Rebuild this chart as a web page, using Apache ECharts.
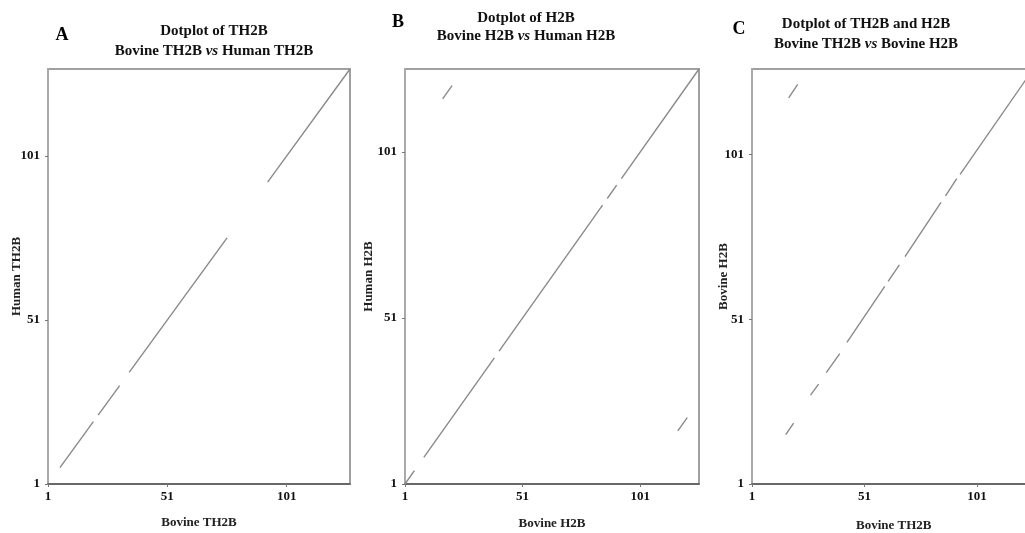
<!DOCTYPE html>
<html>
<head>
<meta charset="utf-8">
<script src="https://cdn.jsdelivr.net/npm/echarts@6/dist/echarts.min.js"></script>
<style>
html,body{margin:0;padding:0;background:#fff;}
#c{width:1025px;height:533px;}
</style>
</head>
<body>
<div id="c"></div>
<script>
// ---- data ----
const tickValues = [1, 51, 101];
const panelLetters = ['A', 'B', 'C'];
const titleLine1 = ['Dotplot of TH2B', 'Dotplot of H2B', 'Dotplot of TH2B and H2B'];
const titleLine2 = ['Bovine TH2B {i|vs} Human TH2B', 'Bovine H2B {i|vs} Human H2B', 'Bovine TH2B {i|vs} Bovine H2B'];
const xNames = ['Bovine TH2B', 'Bovine H2B', 'Bovine TH2B'];
const yNames = ['Human TH2B', 'Human H2B', 'Bovine H2B'];
const axisMax = [127.5, 126, 127];
// dot-plot match segments: [x1, y1, x2, y2] (residue positions)
const segmentsA = [[6, 6, 20, 20], [22, 22, 31, 31], [35, 35, 76, 76], [93, 93, 127.5, 127.5]];
const segmentsB = [[1, 1, 5, 5], [9, 9, 39, 39], [41, 41, 85, 85], [87, 87, 91, 91], [93, 93, 126, 126],
                   [17, 117, 21, 121], [117, 17, 121, 21]];
const segmentsC = [[16, 16, 19.5, 19.5], [27, 28, 30.6, 31.3], [34, 34.8, 40, 40.6], [43.2, 44, 60, 61],
                   [61.5, 62.5, 66.5, 67.5], [69, 70, 85, 86.5], [87, 88.5, 92, 93.7], [93.5, 95, 126, 127],
                   [17.3, 118.2, 21.3, 122.3]];
const segments = [segmentsA, segmentsB, segmentsC];

// ---- layout ----
const serif = '"Liberation Serif", "DejaVu Serif", serif';
const grids = [
  {left: 48, top: 69, width: 302, height: 415},
  {left: 405, top: 69, width: 294, height: 415},
  {left: 752, top: 69, width: 283.5, height: 415}
];
const letterPos = [[57, 21], [393, 8], [734, 15]];
const titlePos = [[209, 19, 39], [521, 6, 24], [861, 12, 32]];
const yNameGap = [24.5, 29.5, 21.5];
const xNameGap = [32, 33, 35];

const chart = echarts.init(document.getElementById('c'), null, {renderer: 'canvas'});
const titles = [], xAxes = [], yAxes = [], series = [];
for (let i = 0; i < 3; i++) {
  titles.push({text: panelLetters[i], left: letterPos[i][0], top: letterPos[i][1], textAlign: 'center',
    textStyle: {fontFamily: serif, fontWeight: 'bold', fontSize: 18, color: '#000'}});
  titles.push({text: titleLine1[i], left: titlePos[i][0], top: titlePos[i][1], textAlign: 'center',
    textStyle: {fontFamily: serif, fontWeight: 'bold', fontSize: 15, color: '#111'}});
  titles.push({text: titleLine2[i], left: titlePos[i][0], top: titlePos[i][2], textAlign: 'center',
    textStyle: {fontFamily: serif, fontWeight: 'bold', fontSize: 15, color: '#111',
      rich: {i: {fontFamily: serif, fontWeight: 'bold', fontStyle: 'italic', fontSize: 15, color: '#111'}}}});
  xAxes.push({
    type: 'value', gridIndex: i, min: 1, max: axisMax[i], interval: 50,
    name: xNames[i], nameLocation: 'middle', nameGap: xNameGap[i], nameMoveOverlap: false,
    nameTextStyle: {fontFamily: serif, fontWeight: 'bold', fontSize: 13, color: '#222'},
    axisLine: {show: true, lineStyle: {color: '#555', width: 1.5}},
    axisTick: {show: true, length: 3, customValues: tickValues, lineStyle: {color: '#777'}},
    axisLabel: {customValues: tickValues, margin: 6, fontFamily: serif, fontWeight: 'bold', fontSize: 13, color: '#111'},
    splitLine: {show: false}
  });
  yAxes.push({
    type: 'value', gridIndex: i, min: 1, max: axisMax[i], interval: 50,
    name: yNames[i], nameLocation: 'middle', nameGap: yNameGap[i], nameMoveOverlap: false,
    nameTextStyle: {fontFamily: serif, fontWeight: 'bold', fontSize: 13, color: '#222'},
    axisLine: {show: true, lineStyle: {color: '#aaa', width: 2}},
    axisTick: {show: true, length: 3, customValues: tickValues, lineStyle: {color: '#777'}},
    axisLabel: {customValues: tickValues, margin: 8, fontFamily: serif, fontWeight: 'bold', fontSize: 13, color: '#111'},
    splitLine: {show: false}
  });
  series.push({
    type: 'lines', coordinateSystem: 'cartesian2d', xAxisIndex: i, yAxisIndex: i,
    lineStyle: {color: '#8a8a8a', width: 1.4, opacity: 1},
    silent: true,
    data: segments[i].map(s => ({coords: [[s[0], s[1]], [s[2], s[3]]]}))
  });
}

chart.setOption({
  animation: false,
  backgroundColor: '#fff',
  title: titles,
  grid: grids.map(g => Object.assign({show: true, borderColor: '#a0a0a0', borderWidth: 2,
    containLabel: false, outerBoundsMode: 'none'}, g)),
  xAxis: xAxes,
  yAxis: yAxes,
  series: series
});
</script>
</body>
</html>
